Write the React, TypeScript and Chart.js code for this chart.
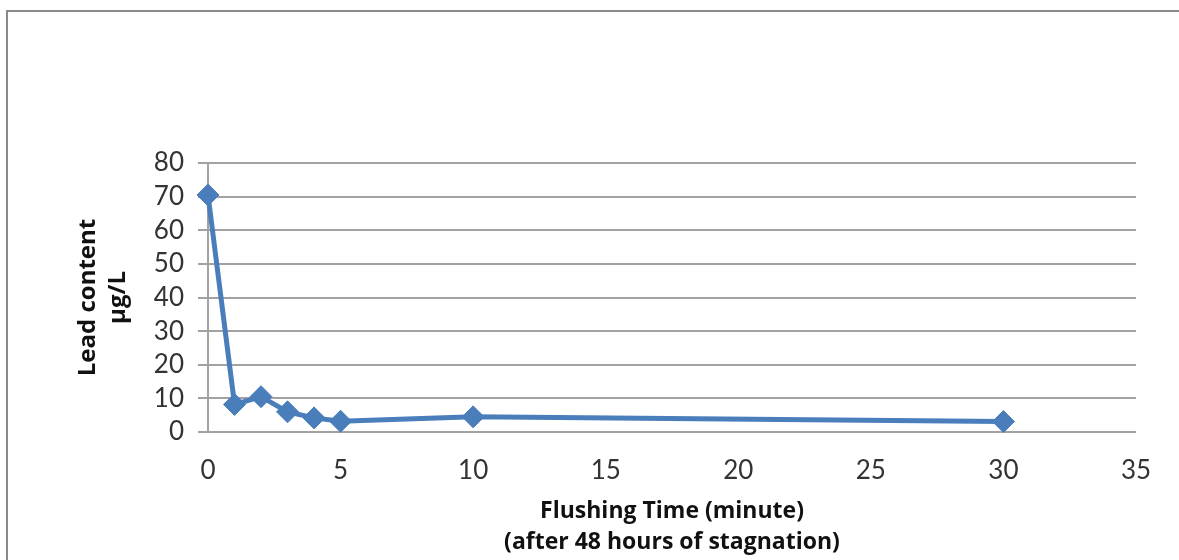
import React, { useEffect, useRef } from 'react';
import { Chart, registerables } from 'chart.js';

Chart.register(...registerables);

const flushMinutes = [0, 1, 2, 3, 4, 5, 10, 30];
const leadContent = [70.5, 8.2, 10.5, 6, 4.2, 3.2, 4.5, 3.1];
const xAxisTitle = ['Flushing Time (minute)', '(after 48 hours of stagnation)'];
const yAxisTitle = ['Lead content', 'µg/L'];

const TICK_FONT = 'Lato, "Open Sans", sans-serif';
const TITLE_FONT = '"Open Sans", Lato, sans-serif';

export default function App() {
  const canvasRef = useRef<HTMLCanvasElement | null>(null);

  useEffect(() => {
    const canvas = canvasRef.current;
    if (!canvas) return;
    const chart = new Chart(canvas, {
      type: 'line',
      data: {
        datasets: [
          {
            data: flushMinutes.map((x, i) => ({ x, y: leadContent[i] })),
            borderColor: '#4a7ebb',
            backgroundColor: '#4a7ebb',
            borderWidth: 5,
            pointStyle: 'rectRot',
            pointRadius: 11,
            pointBorderWidth: 1,
            pointBorderColor: '#4a7ebb',
            pointBackgroundColor: '#4a7ebb',
            tension: 0,
            clip: false as any,
          },
        ],
      },
      options: {
        animation: false,
        responsive: false,
        maintainAspectRatio: false,
        devicePixelRatio: 1,
        layout: { padding: { top: 163, right: 43, left: 0, bottom: 0 } },
        plugins: {
          legend: { display: false },
          tooltip: { enabled: false },
        },
        scales: {
          x: {
            type: 'linear',
            min: 0,
            max: 35,
            ticks: {
              stepSize: 5,
              autoSkip: false,
              font: { family: TICK_FONT, size: 26, lineHeight: 1.1 },
              color: '#333333',
              padding: 24,
              maxRotation: 0,
            },
            grid: { display: false, drawTicks: false },
            border: { display: false },
            title: {
              display: true,
              text: xAxisTitle,
              font: { family: TITLE_FONT, size: 23, weight: 'bold', lineHeight: 1.35 },
              color: '#111111',
              padding: { top: 0, bottom: 2 },
            },
            afterFit: (s: any) => {
              s.height = 128;
              s.paddingLeft = 0;
              s.paddingRight = 0;
            },
          },
          y: {
            type: 'linear',
            min: 0,
            max: 80,
            ticks: {
              stepSize: 10,
              autoSkip: false,
              font: { family: TICK_FONT, size: 26, lineHeight: 1.1 },
              color: '#333333',
              padding: 14,
            },
            grid: {
              color: '#a2a2a2',
              lineWidth: 2,
              tickLength: 10,
              drawTicks: true,
            },
            border: { display: true, color: '#a2a2a2', width: 2 },
            title: {
              display: true,
              text: yAxisTitle,
              font: { family: TITLE_FONT, size: 24, weight: 'bold', lineHeight: 1.25 },
              color: '#111111',
              padding: { top: 73, bottom: 0 },
            },
            afterFit: (s: any) => {
              s.width = 208;
              s.paddingTop = 0;
              s.paddingBottom = 0;
            },
          },
        },
      },
    });
    return () => chart.destroy();
  }, []);

  return (
    <div
      style={{
        position: 'absolute',
        left: 0,
        top: 0,
        width: 1179,
        height: 560,
        overflow: 'hidden',
        background: '#ffffff',
      }}
    >
      <div
        style={{
          position: 'absolute',
          left: 6,
          top: 10,
          width: 1400,
          height: 800,
          border: '2px solid #8a8a8a',
          boxSizing: 'border-box',
        }}
      />
      <canvas
        ref={canvasRef}
        width={1179}
        height={560}
        style={{ position: 'absolute', left: 0, top: 0, width: 1179, height: 560 }}
      />
    </div>
  );
}
